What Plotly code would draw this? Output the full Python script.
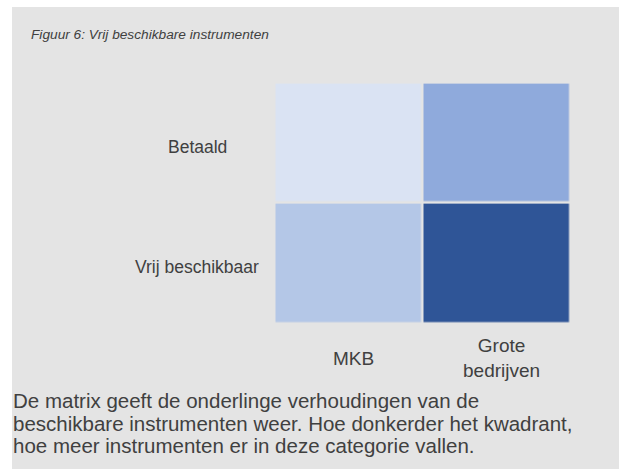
import plotly.graph_objects as go

# Matrix categories and relative intensity (1 = fewest instruments, 4 = most)
company_types = ["MKB", "Grote bedrijven"]
availability = ["Vrij beschikbaar", "Betaald"]
vrij_beschikbaar = [2, 4]
betaald = [1, 3]

title_text = "Figuur 6: Vrij beschikbare instrumenten"
caption_lines = [
    "De matrix geeft de onderlinge verhoudingen van de",
    "beschikbare instrumenten weer. Hoe donkerder het kwadrant,",
    "hoe meer instrumenten er in deze categorie vallen.",
]

W, H = 619, 469
L, R, T, B = 273, 47, 82, 145
PW, PH = W - L - R, H - T - B
FONT = "Liberation Sans, Arial, sans-serif"
TEXT = "#404040"


def px_x(px):
    return (px - L) / PW


def px_y(py):
    return (H - B - py) / PH


fig = go.Figure(
    go.Heatmap(
        z=[vrij_beschikbaar, betaald],
        x=list(range(len(company_types))),
        y=list(range(len(availability))),
        zmin=1,
        zmax=4,
        colorscale=[
            [0.0, "#dae3f3"],
            [1 / 3, "#b4c7e7"],
            [2 / 3, "#8faadc"],
            [1.0, "#2f5597"],
        ],
        xgap=2.5,
        ygap=2.5,
        showscale=False,
        hoverinfo="skip",
    )
)

fig.update_xaxes(
    range=[-0.51, 1.51],
    showticklabels=False,
    showgrid=False,
    zeroline=False,
    fixedrange=True,
)
fig.update_yaxes(
    range=[-0.505, 1.505],
    showticklabels=False,
    showgrid=False,
    zeroline=False,
    fixedrange=True,
)

# Grey panel behind the figure content
fig.add_shape(
    type="rect",
    xref="paper",
    yref="paper",
    x0=px_x(12),
    x1=px_x(W + 2),
    y0=px_y(H + 2),
    y1=px_y(7),
    fillcolor="#e4e4e4",
    line_width=0,
    layer="below",
)

annotations = [
    dict(
        text=title_text,
        xref="paper",
        yref="paper",
        x=px_x(29),
        y=px_y(34),
        xanchor="left",
        yanchor="middle",
        showarrow=False,
        font=dict(family=FONT, size=13.7, color=TEXT, style="italic"),
    )
]

# Row labels, centred in a text column left of the matrix
for j, name in enumerate(availability):
    annotations.append(
        dict(
            text=name,
            xref="paper",
            yref="y",
            x=px_x(197),
            y=j,
            yshift=-4,
            xanchor="center",
            yanchor="middle",
            showarrow=False,
            font=dict(family=FONT, size=17.5, color=TEXT),
        )
    )

# Column labels under the matrix
for i, name in enumerate(company_types):
    annotations.append(
        dict(
            text=name.replace(" ", "<br>"),
            xref="x",
            yref="paper",
            x=i,
            xshift=5,
            y=px_y(358),
            xanchor="center",
            yanchor="middle",
            showarrow=False,
            font=dict(family=FONT, size=19, color=TEXT),
        )
    )

# Caption beneath the matrix, one annotation per line
line_step = 23
for k, line in enumerate(caption_lines):
    annotations.append(
        dict(
            text=line,
            xref="paper",
            yref="paper",
            x=px_x(11),
            y=px_y(400 + line_step * k),
            xanchor="left",
            yanchor="middle",
            showarrow=False,
            font=dict(family=FONT, size=20.5, color=TEXT),
        )
    )

fig.update_layout(
    width=W,
    height=H,
    margin=dict(l=L, r=R, t=T, b=B, pad=0),
    paper_bgcolor="white",
    plot_bgcolor="white",
    annotations=annotations,
    showlegend=False,
)

fig.write_html("out.html")
